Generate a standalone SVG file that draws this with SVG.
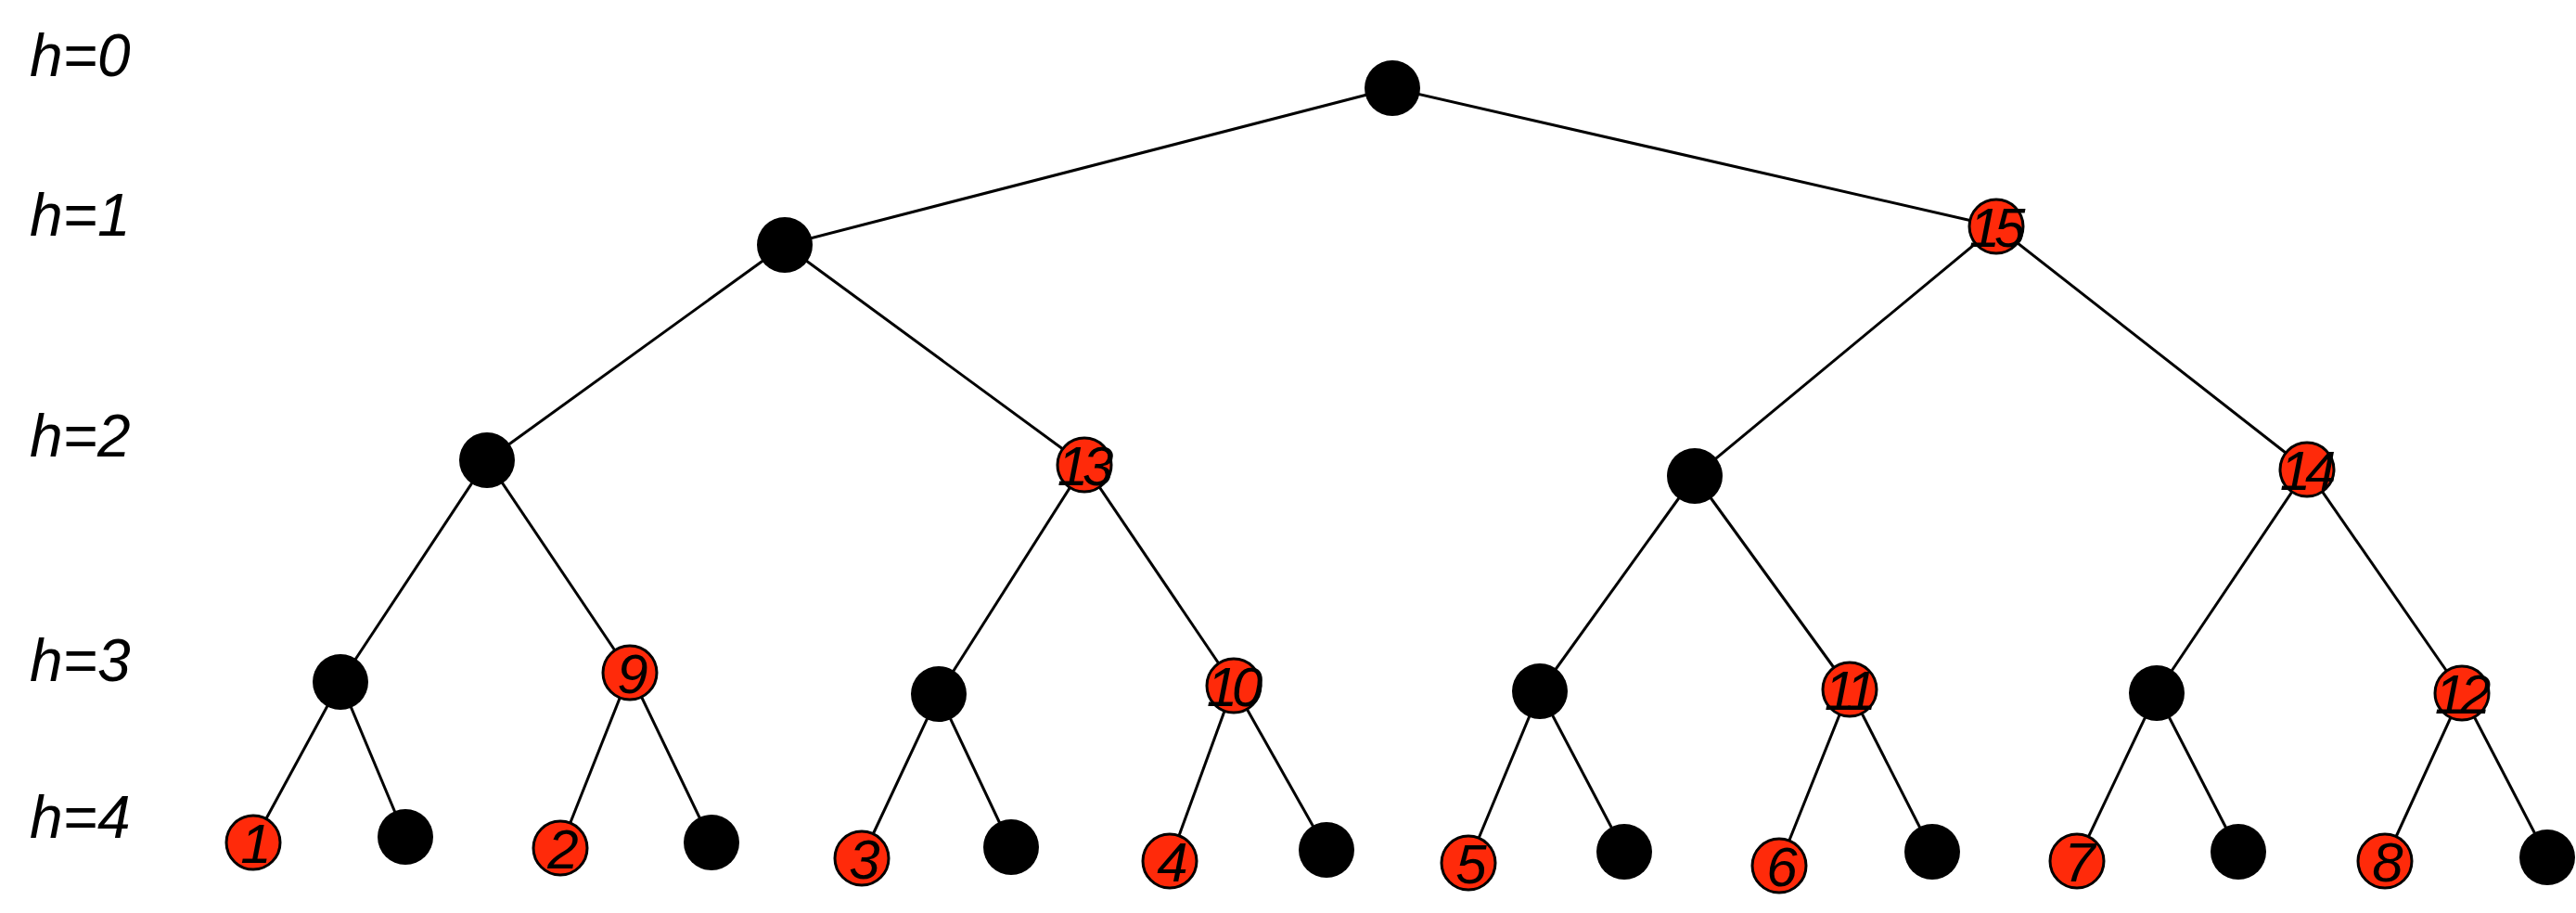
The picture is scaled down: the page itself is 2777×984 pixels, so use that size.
<svg xmlns="http://www.w3.org/2000/svg" width="2777" height="984" viewBox="0 0 2777 984">
<style>
.e{stroke:#000;stroke-width:3;fill:none}
.b{fill:#000}
.r{fill:#ff2a0a;stroke:#000;stroke-width:3}
.t{font-family:"Liberation Sans",Arial,sans-serif;font-style:italic;fill:#000}
.h{font-size:64px}
.n{font-size:60px;text-anchor:middle;letter-spacing:-6px}
</style>
<rect width="2777" height="984" fill="#fff"/>
<g id="levels" class="t h">
<text x="32" y="82">h=0</text>
<text x="32" y="254">h=1</text>
<text x="32" y="492">h=2</text>
<text x="32" y="734">h=3</text>
<text x="32" y="903">h=4</text>
</g>
<g id="edges" class="e">
<line x1="1501" y1="95" x2="846" y2="264"/>
<line x1="1501" y1="95" x2="2152" y2="244"/>
<line x1="846" y1="264" x2="525" y2="496"/>
<line x1="846" y1="264" x2="1169" y2="501"/>
<line x1="2152" y1="244" x2="1827" y2="513"/>
<line x1="2152" y1="244" x2="2487" y2="506"/>
<line x1="525" y1="496" x2="367" y2="735"/>
<line x1="525" y1="496" x2="679" y2="725"/>
<line x1="1169" y1="501" x2="1012" y2="748"/>
<line x1="1169" y1="501" x2="1330" y2="739"/>
<line x1="1827" y1="513" x2="1660" y2="745"/>
<line x1="1827" y1="513" x2="1994" y2="743"/>
<line x1="2487" y1="506" x2="2325" y2="747"/>
<line x1="2487" y1="506" x2="2654" y2="747"/>
<line x1="367" y1="735" x2="273" y2="908"/>
<line x1="367" y1="735" x2="437" y2="902"/>
<line x1="679" y1="725" x2="604" y2="914"/>
<line x1="679" y1="725" x2="767" y2="908"/>
<line x1="1012" y1="748" x2="929" y2="925"/>
<line x1="1012" y1="748" x2="1090" y2="913"/>
<line x1="1330" y1="739" x2="1261" y2="928"/>
<line x1="1330" y1="739" x2="1430" y2="916"/>
<line x1="1660" y1="745" x2="1583" y2="930"/>
<line x1="1660" y1="745" x2="1751" y2="918"/>
<line x1="1994" y1="743" x2="1918" y2="933"/>
<line x1="1994" y1="743" x2="2083" y2="918"/>
<line x1="2325" y1="747" x2="2239" y2="928"/>
<line x1="2325" y1="747" x2="2413" y2="918"/>
<line x1="2654" y1="747" x2="2571" y2="928"/>
<line x1="2654" y1="747" x2="2746" y2="924"/>
</g>
<g id="n0"><circle class="b" cx="1501" cy="95" r="30"/></g>
<g id="n1"><circle class="b" cx="846" cy="264" r="30"/></g>
<g id="n15"><circle class="r" cx="2152" cy="244" r="29"/><text class="t n" x="2150" y="266">15</text></g>
<g id="n2a"><circle class="b" cx="525" cy="496" r="30"/></g>
<g id="n13"><circle class="r" cx="1169" cy="501" r="29"/><text class="t n" x="1167" y="523">13</text></g>
<g id="n2b"><circle class="b" cx="1827" cy="513" r="30"/></g>
<g id="n14"><circle class="r" cx="2487" cy="506" r="29"/><text class="t n" x="2485" y="528">14</text></g>
<g id="n3a"><circle class="b" cx="367" cy="735" r="30"/></g>
<g id="n9"><circle class="r" cx="679" cy="725" r="29"/><text class="t n" x="679" y="747">9</text></g>
<g id="n3b"><circle class="b" cx="1012" cy="748" r="30"/></g>
<g id="n10"><circle class="r" cx="1330" cy="739" r="29"/><text class="t n" x="1328" y="761">10</text></g>
<g id="n3c"><circle class="b" cx="1660" cy="745" r="30"/></g>
<g id="n11"><circle class="r" cx="1994" cy="743" r="29"/><text class="t n" x="1992" y="765">11</text></g>
<g id="n3d"><circle class="b" cx="2325" cy="747" r="30"/></g>
<g id="n12"><circle class="r" cx="2654" cy="747" r="29"/><text class="t n" x="2652" y="769">12</text></g>
<g id="n1l"><circle class="r" cx="273" cy="908" r="29"/><text class="t n" x="273" y="930">1</text></g>
<g id="l1"><circle class="b" cx="437" cy="902" r="30"/></g>
<g id="n2l"><circle class="r" cx="604" cy="914" r="29"/><text class="t n" x="604" y="936">2</text></g>
<g id="l2"><circle class="b" cx="767" cy="908" r="30"/></g>
<g id="n3l"><circle class="r" cx="929" cy="925" r="29"/><text class="t n" x="929" y="947">3</text></g>
<g id="l3"><circle class="b" cx="1090" cy="913" r="30"/></g>
<g id="n4l"><circle class="r" cx="1261" cy="928" r="29"/><text class="t n" x="1261" y="950">4</text></g>
<g id="l4"><circle class="b" cx="1430" cy="916" r="30"/></g>
<g id="n5l"><circle class="r" cx="1583" cy="930" r="29"/><text class="t n" x="1583" y="952">5</text></g>
<g id="l5"><circle class="b" cx="1751" cy="918" r="30"/></g>
<g id="n6l"><circle class="r" cx="1918" cy="933" r="29"/><text class="t n" x="1918" y="955">6</text></g>
<g id="l6"><circle class="b" cx="2083" cy="918" r="30"/></g>
<g id="n7l"><circle class="r" cx="2239" cy="928" r="29"/><text class="t n" x="2239" y="950">7</text></g>
<g id="l7"><circle class="b" cx="2413" cy="918" r="30"/></g>
<g id="n8l"><circle class="r" cx="2571" cy="928" r="29"/><text class="t n" x="2571" y="950">8</text></g>
<g id="l8"><circle class="b" cx="2746" cy="924" r="30"/></g>
</svg>
